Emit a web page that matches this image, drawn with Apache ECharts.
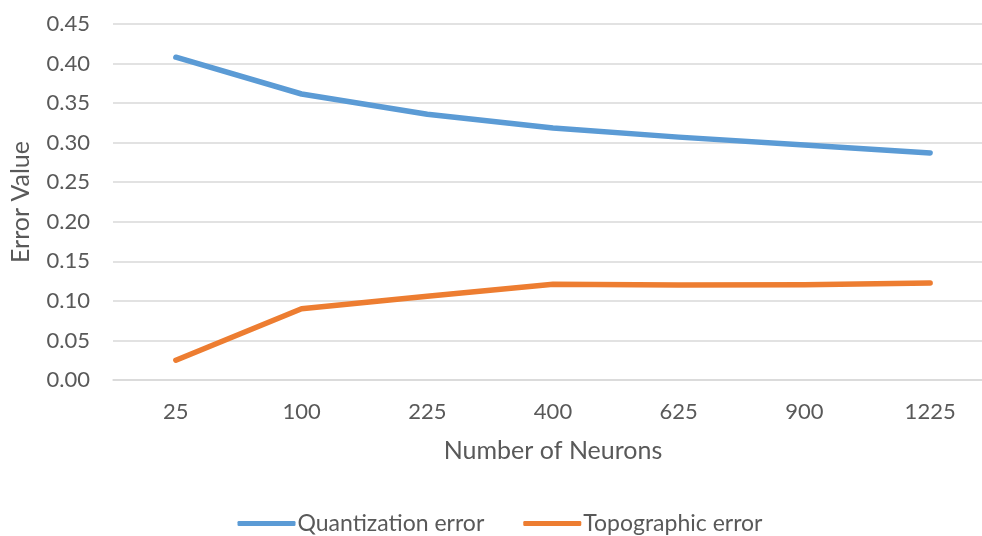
<!DOCTYPE html>
<html>
<head>
<meta charset="utf-8">
<script src="https://cdn.jsdelivr.net/npm/echarts@6/dist/echarts.min.js"></script>
<style>html,body{margin:0;padding:0;background:#fff;overflow:hidden;}#c{width:1000px;height:536px;}</style>
</head>
<body>
<div id="c"></div>
<script>
const categories = ['25', '100', '225', '400', '625', '900', '1225'];
const quantization = [0.408, 0.3615, 0.336, 0.3185, 0.307, 0.297, 0.287];
const topographic = [0.025, 0.090, 0.106, 0.121, 0.120, 0.1205, 0.1225];
const seriesNames = ['Quantization error', 'Topographic error'];

const FONT = 'Lato';
const TXT = '#595959';
const chart = echarts.init(document.getElementById('c'));
chart.setOption({
  animation: false,
  backgroundColor: '#fff',
  textStyle: { fontFamily: FONT, color: TXT },
  grid: { left: 111, top: 24, width: 882, height: 356, containLabel: false },
  legend: {
    top: 507,
    left: 'center',
    itemWidth: 58,
    itemHeight: 5,
    itemGap: 39,
    icon: 'roundRect',
    textStyle: { fontFamily: FONT, fontSize: 23, color: TXT, padding: [0, 0, 0, -3] },
    data: seriesNames
  },
  xAxis: {
    type: 'category',
    data: categories,
    boundaryGap: true,
    name: 'Number of Neurons',
    nameLocation: 'middle',
    nameGap: 58,
    nameTextStyle: { fontFamily: FONT, fontSize: 25, color: TXT },
    axisLine: { show: true, lineStyle: { color: '#D9D9D9', width: 1.5 } },
    axisTick: { show: false },
    axisLabel: { fontFamily: FONT, fontSize: 22, color: TXT, margin: 21 }
  },
  yAxis: {
    type: 'value',
    min: 0,
    max: 0.45,
    interval: 0.05,
    name: 'Error Value',
    nameLocation: 'middle',
    nameGap: 80,
    nameTextStyle: { fontFamily: FONT, fontSize: 25, color: TXT },
    axisLine: { show: false },
    axisTick: { show: false },
    axisLabel: { fontFamily: FONT, fontSize: 22, color: TXT, margin: 23, formatter: v => v.toFixed(2) },
    splitLine: { lineStyle: { color: '#D9D9D9', width: 1.5 } }
  },
  series: [
    {
      name: seriesNames[0], type: 'line', data: quantization,
      symbol: 'none', smooth: false,
      lineStyle: { color: '#5B9BD5', width: 5.5, cap: 'round', join: 'round' },
      itemStyle: { color: '#5B9BD5' }
    },
    {
      name: seriesNames[1], type: 'line', data: topographic,
      symbol: 'none', smooth: false,
      lineStyle: { color: '#ED7D31', width: 5.5, cap: 'round', join: 'round' },
      itemStyle: { color: '#ED7D31' }
    }
  ]
});
</script>
</body>
</html>
